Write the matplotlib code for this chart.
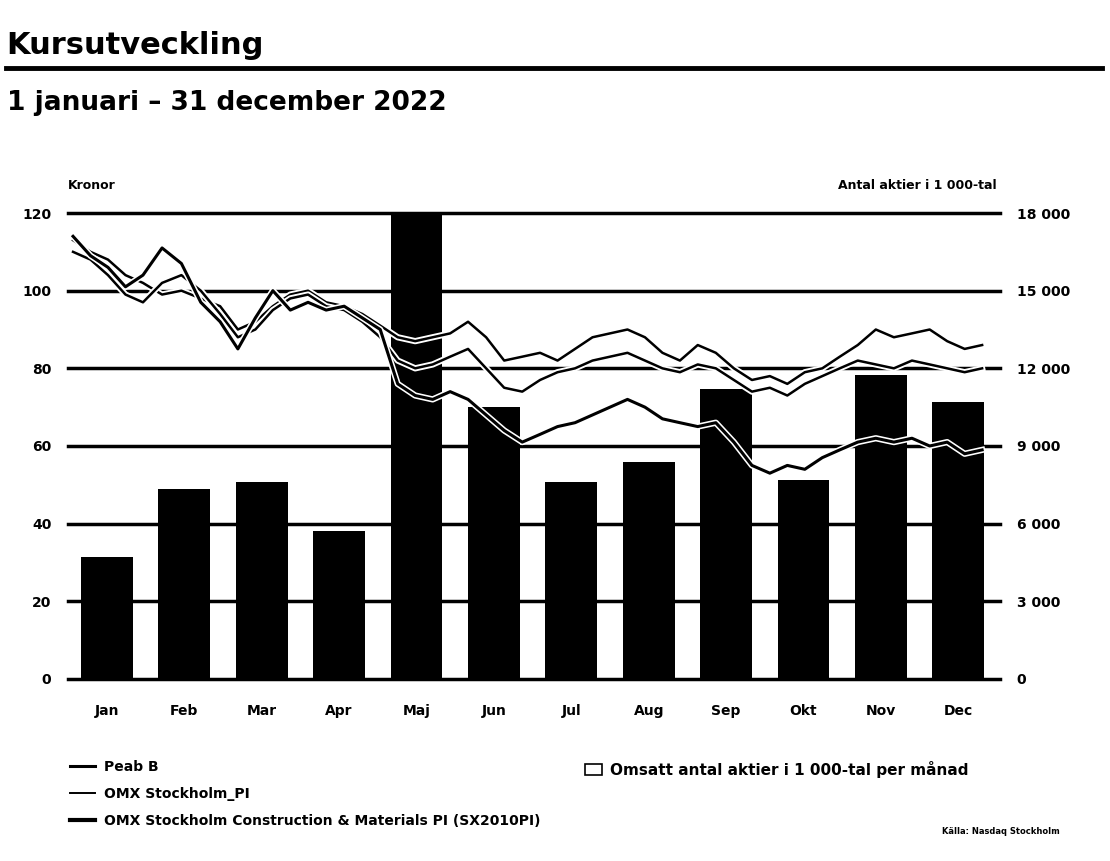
import pandas as pd
import matplotlib
matplotlib.use("Agg")
import matplotlib.pyplot as plt
import matplotlib.patheffects as pe
from matplotlib.lines import Line2D
from matplotlib.patches import Patch

# ======================================
# Data
# ======================================

months = ["Jan", "Feb", "Mar", "Apr", "Maj", "Jun",
          "Jul", "Aug", "Sep", "Okt", "Nov", "Dec"]

# omsatt antal aktier per månad, 1 000-tal
volume = [4700, 7350, 7600, 5700, 20000, 10500,
          7600, 8400, 11200, 7700, 11750, 10700]

# veckovisa kurser (kronor, index omräknade)
week_dates = pd.date_range("2022-01-03", "2022-12-26", freq="7D")

peab = [114, 109, 106, 101, 104, 111, 107, 97, 92, 85,
        93, 100, 95, 97, 95, 96, 93, 90, 76, 73,
        72, 74, 72, 68, 64, 61, 63, 65, 66, 68,
        70, 72, 70, 67, 66, 65, 66, 61, 55, 53,
        55, 54, 57, 59, 61, 62, 61, 62, 60, 61,
        58, 59]

omx_pi = [113, 110, 108, 104, 102, 99, 100, 98, 96, 90,
          92, 96, 99, 100, 97, 96, 94, 91, 88, 87,
          88, 89, 92, 88, 82, 83, 84, 82, 85, 88,
          89, 90, 88, 84, 82, 86, 84, 80, 77, 78,
          76, 79, 80, 83, 86, 90, 88, 89, 90, 87,
          85, 86]

omx_construction = [110, 108, 104, 99, 97, 102, 104, 100, 94, 88,
                    90, 95, 98, 99, 96, 95, 92, 88, 82, 80,
                    81, 83, 85, 80, 75, 74, 77, 79, 80, 82,
                    83, 84, 82, 80, 79, 81, 80, 77, 74, 75,
                    73, 76, 78, 80, 82, 81, 80, 82, 81, 80,
                    79, 80]

left_ticks = [0, 20, 40, 60, 80, 100, 120]
right_ticks = [0, 3000, 6000, 9000, 12000, 15000, 18000]
right_labels = ["0", "3 000", "6 000", "9 000", "12 000", "15 000", "18 000"]


def to_month_pos(d):
    # month index with the month's bar centred on the integer
    return d.month - 1 - 0.5 + (d.day - 1) / d.days_in_month


week_x = [to_month_pos(d) for d in week_dates]

# ======================================
# Figure
# ======================================

plt.rcParams["font.family"] = ["DejaVu Sans"]

fig = plt.figure(figsize=(11.1, 8.61), dpi=100)

fig.text(0.006, 0.947, "Kursutveckling", fontsize=22, fontweight="bold",
         va="center", ha="left")
fig.add_artist(Line2D([0.005, 0.993], [0.921, 0.921], color="black",
                      lw=3.5, transform=fig.transFigure))
fig.text(0.006, 0.880, "1 januari – 31 december 2022", fontsize=19,
         fontweight="bold", va="center", ha="left")

ax = fig.add_axes([0.0613, 0.2114, 0.8370, 0.5412])
ax2 = ax.twinx()

# bars on the right-hand axis, drawn behind the price lines
ax2.set_zorder(0)
ax.set_zorder(1)
ax.patch.set_visible(False)

ax2.bar(range(len(months)), volume, width=0.67, color="black", zorder=2)
ax2.set_ylim(0, 18000)
ax2.set_yticks(right_ticks)
ax2.set_yticklabels(right_labels, fontsize=10, fontweight="bold")

for t in right_ticks:
    ax2.axhline(t, color="black", lw=2.5, zorder=1, xmax=1.003, clip_on=False)

halo = [pe.Stroke(linewidth=4.5, foreground="white"), pe.Normal()]

ax.plot(week_x, omx_pi, color="black", lw=1.8, path_effects=halo, zorder=3)
ax.plot(week_x, omx_construction, color="black", lw=1.8,
        path_effects=halo, zorder=3)
ax.plot(week_x, peab, color="black", lw=2.2, path_effects=halo, zorder=4)

ax.set_xlim(-0.5, 11.5)
ax.set_ylim(0, 120)
ax.set_yticks(left_ticks)
ax.set_yticklabels([str(t) for t in left_ticks], fontsize=10, fontweight="bold")
ax.set_xticks(range(len(months)))
ax.set_xticklabels(months, fontsize=10, fontweight="bold")

for a in (ax, ax2):
    for s in a.spines.values():
        s.set_visible(False)
    a.tick_params(length=0)

ax.tick_params(axis="y", pad=12)
ax2.tick_params(axis="y", pad=14)
ax.tick_params(axis="x", pad=18)

ax.text(0.0, 1.045, "Kronor", transform=ax.transAxes, fontsize=9,
        fontweight="bold", ha="left", va="bottom")
ax.text(1.0, 1.045, "Antal aktier i 1 000-tal", transform=ax.transAxes,
        fontsize=9, fontweight="bold", ha="right", va="bottom")

# ======================================
# Legends
# ======================================

line_handles = [
    Line2D([], [], color="black", lw=2.2),
    Line2D([], [], color="black", lw=1.4),
    Line2D([], [], color="black", lw=3),
]
line_labels = ["Peab B", "OMX Stockholm_PI",
               "OMX Stockholm Construction & Materials PI (SX2010PI)"]
fig.legend(line_handles, line_labels, loc="upper left",
           bbox_to_anchor=(0.052, 0.132), frameon=False,
           handlelength=1.8, handletextpad=0.6, labelspacing=0.95,
           prop={"weight": "bold", "size": 10})

fig.legend([Patch(facecolor="white", edgecolor="black", lw=1.2)],
           ["Omsatt antal aktier i 1 000-tal per månad"], loc="upper left",
           bbox_to_anchor=(0.515, 0.132), frameon=False,
           handlelength=1.1, handletextpad=0.5,
           prop={"weight": "bold", "size": 11})

fig.text(0.955, 0.034, "Källa: Nasdaq Stockholm", fontsize=6,
         fontweight="bold", ha="right", va="center")

fig.savefig("out.png", dpi=100)
